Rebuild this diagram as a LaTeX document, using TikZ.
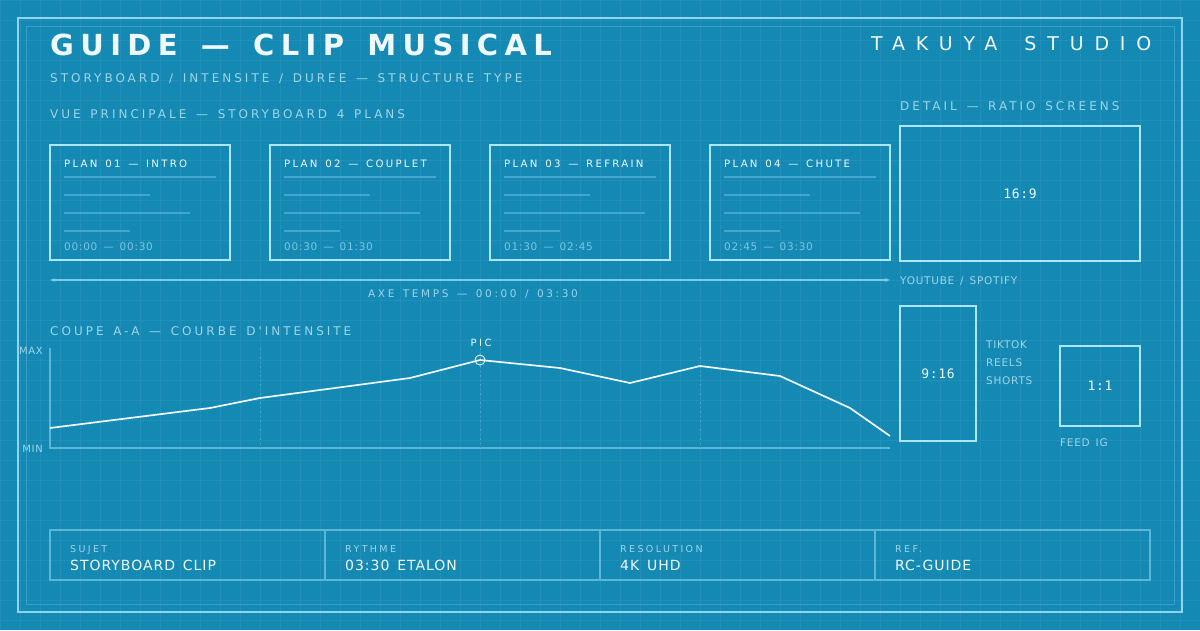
\documentclass[tikz,border=0pt]{standalone}
\usepackage{fontspec}
\setmainfont{DejaVu Sans}
\newfontfamily\titlefont[LetterSpace=22,WordSpace=1.41]{DejaVu Sans}
\newfontfamily\spacedfont[LetterSpace=25,WordSpace=1.42]{DejaVu Sans}
\newfontfamily\widefont[LetterSpace=57,WordSpace=1.6]{DejaVu Sans}
\newfontfamily\lightfont[LetterSpace=7,WordSpace=1.45]{DejaVu Sans}
\newfontfamily\ratiofont[LetterSpace=5]{DejaVu Sans Mono}
\usetikzlibrary{scopes,arrows.meta}

\definecolor{bp}{HTML}{1489B4}
\definecolor{frameline}{HTML}{8ED6F0}
\definecolor{boxline}{HTML}{ACE6F8}
\definecolor{ink}{HTML}{EEF9FD}
\definecolor{muted}{HTML}{9FD5E9}
\definecolor{dim}{HTML}{7EC6E1}
\definecolor{faint}{HTML}{43A6CE}
\definecolor{axisline}{HTML}{7CCBE6}
\definecolor{tableline}{HTML}{5BB6D8}

\begin{document}
\begin{tikzpicture}[x=1pt, y=-1pt,
		txt/.style={inner sep=0pt, anchor=base west},
		heading/.style={txt, text=muted, font=\spacedfont\fontsize{12}{14}\selectfont},
		planbox/.style={draw=boxline, line width=1.6pt, minimum width=180pt, minimum height=115pt, inner sep=0pt, outer sep=0pt, anchor=north west},
		plantitle/.style={txt, text=ink, font=\titlefont\fontsize{10.2}{12}\selectfont},
		plantime/.style={txt, text=dim, font=\lightfont\fontsize{10.5}{12}\selectfont},
		sketch/.style={draw=faint, line width=1.3pt},
		ratiobox/.style={draw=boxline, line width=1.6pt, inner sep=0pt, outer sep=0pt, anchor=north west, text=ink, font=\ratiofont\fontsize{13}{15}\selectfont},
		tag/.style={txt, text=muted, font=\lightfont\fontsize{10.5}{12}\selectfont},
		cell/.style={draw=tableline, line width=1.2pt, minimum width=275pt, minimum height=50pt, inner sep=0pt, outer sep=0pt, anchor=north west},
	]
	\useasboundingbox (0,0) rectangle (1200,630);
	\fill[bp] (0,0) rectangle (1200,630);
	\draw[white, opacity=.06, line width=.5pt, step=20pt] (0,0) grid (1200,630);

	% frames
	\draw[frameline, line width=2pt] (18,18) rectangle (1182,612);
	\draw[frameline, opacity=.3, line width=.8pt] (26,26) rectangle (1174,604);

	% header
	\node[txt, text=ink, font=\titlefont\bfseries\fontsize{29}{32}\selectfont] (title) at (50,55) {GUIDE — CLIP MUSICAL};
	\node[txt, text=ink, font=\widefont\fontsize{19}{22}\selectfont] (studio) at (871,50) {TAKUYA STUDIO};
	\node[heading] (subtitle) at (50,82) {STORYBOARD / INTENSITE / DUREE — STRUCTURE TYPE};
	\node[heading] (vue) at (50,118) {VUE PRINCIPALE — STORYBOARD 4 PLANS};
	\node[heading] (detail) at (900,110) {DETAIL — RATIO SCREENS};

	% storyboard
	\node[planbox] (p1) at (50,145) {};
	\node[planbox] (p2) at (270,145) {};
	\node[planbox] (p3) at (490,145) {};
	\node[planbox] (p4) at (710,145) {};

	\node[plantitle] (p1title) at (64,167) {PLAN 01 — INTRO};
	\node[plantitle] (p2title) at (284,167) {PLAN 02 — COUPLET};
	\node[plantitle] (p3title) at (504,167) {PLAN 03 — REFRAIN};
	\node[plantitle] (p4title) at (724,167) {PLAN 04 — CHUTE};

	\node[plantime] (p1time) at (64,250) {00:00 — 00:30};
	\node[plantime] (p2time) at (284,250) {00:30 — 01:30};
	\node[plantime] (p3time) at (504,250) {01:30 — 02:45};
	\node[plantime] (p4time) at (724,250) {02:45 — 03:30};

	{ [sketch]
		\draw (64,177) -- (216,177);  \draw (64,195) -- (150,195);  \draw (64,213) -- (190,213);  \draw (64,231) -- (130,231);
		\draw (284,177) -- (436,177); \draw (284,195) -- (370,195); \draw (284,213) -- (420,213); \draw (284,231) -- (340,231);
		\draw (504,177) -- (656,177); \draw (504,195) -- (590,195); \draw (504,213) -- (645,213); \draw (504,231) -- (560,231);
		\draw (724,177) -- (876,177); \draw (724,195) -- (810,195); \draw (724,213) -- (860,213); \draw (724,231) -- (780,231);
	}

	% time axis
	\coordinate (t0) at (50,280);
	\coordinate (t1) at (890,280);
	\draw[axisline, line width=1.2pt, {Stealth[length=5pt,width=3.5pt]}-{Stealth[length=5pt,width=3.5pt]}] (t0) -- (t1);
	\node[txt, anchor=base, text=muted, font=\spacedfont\fontsize{10.5}{12}\selectfont] (axe) at (473,297) {AXE TEMPS — 00:00 / 03:30};

	% ratio screens
	\node[ratiobox, minimum width=240pt, minimum height=135pt] (r169) at (900,126) {16:9};
	\node[tag] (yt) at (900,284) {YOUTUBE / SPOTIFY};
	\node[ratiobox, minimum width=76pt, minimum height=135pt] (r916) at (900,306) {9:16};
	\node[tag] (tiktok) at (986,348) {TIKTOK};
	\node[tag] (reels) at (986,366) {REELS};
	\node[tag] (shorts) at (986,384) {SHORTS};
	\node[ratiobox, minimum width=80pt, minimum height=80pt] (r11) at (1060,346) {1:1};
	\node[tag] (feed) at (1060,446) {FEED IG};

	% intensity section
	\node[heading] (coupe) at (50,335) {COUPE A-A — COURBE D'INTENSITE};
	\coordinate (ymax) at (50,348);
	\coordinate (origin) at (50,448);
	\coordinate (xend) at (890,448);
	\draw[tableline, line width=1.3pt] (ymax) -- (origin) -- (xend);
	\node[txt, anchor=base east, text=muted, font=\lightfont\fontsize{10}{12}\selectfont] (maxl) at (43,354) {MAX};
	\node[txt, anchor=base east, text=muted, font=\lightfont\fontsize{10}{12}\selectfont] (minl) at (43,452) {MIN};

	{ [faint, line width=1pt, dash pattern=on 1.5pt off 3pt]
		\draw (260,348) -- (260,448);
		\draw (480,348) -- (480,448);
		\draw (700,348) -- (700,448);
	}

	\draw[ink, line width=1.7pt, line join=round] (50,428) -- (210,408) -- (260,398) -- (410,378) -- (480,360) -- (560,368) -- (630,383) -- (700,366) -- (780,376) -- (850,408) -- (890,436);
	\node[draw=ink, circle, line width=.9pt, minimum size=10pt, inner sep=0pt] (pic) at (480,360) {};
	\node[txt, anchor=base, text=ink, font=\spacedfont\fontsize{10}{12}\selectfont] (piclabel) at (481,346) {PIC};

	% title block
	\node[cell] (c1) at (50,530) {};
	\node[cell] (c2) at (325,530) {};
	\node[cell] (c3) at (600,530) {};
	\node[cell] (c4) at (875,530) {};

	{ [txt, text=muted, font=\spacedfont\fontsize{9.5}{11}\selectfont]
		\node (l1) at (70,552) {SUJET};
		\node (l2) at (345,552) {RYTHME};
		\node (l3) at (620,552) {RESOLUTION};
		\node (l4) at (895,552) {REF.};
	}
	{ [txt, text=ink, font=\lightfont\fontsize{14}{16}\selectfont]
		\node (v1) at (70,570) {STORYBOARD CLIP};
		\node (v2) at (345,570) {03:30 ETALON};
		\node (v3) at (620,570) {4K UHD};
		\node (v4) at (895,570) {RC-GUIDE};
	}
\end{tikzpicture}
\end{document}
